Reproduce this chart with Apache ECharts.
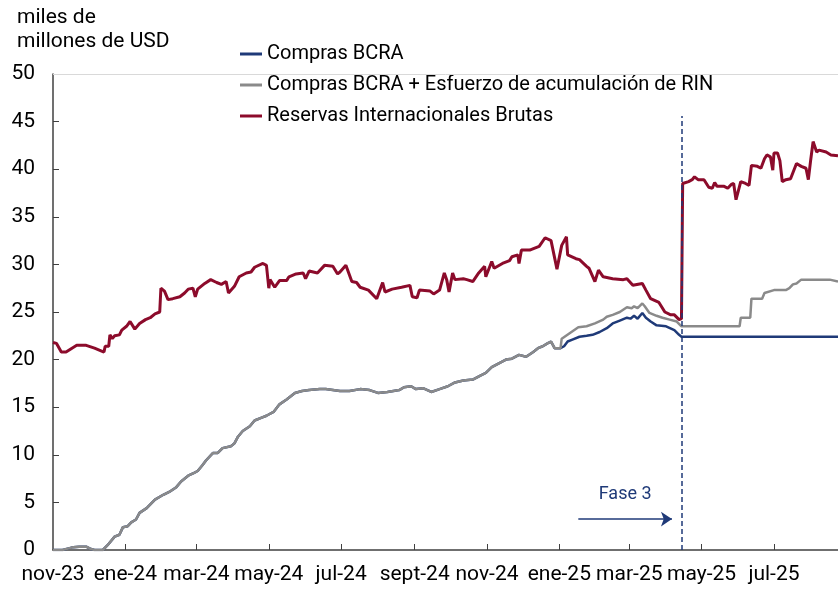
<!DOCTYPE html>
<html>
<head>
    <meta charset="utf-8">
    <title>Reservas y compras BCRA</title>
    <script src="https://cdn.jsdelivr.net/npm/echarts@6/dist/echarts.min.js"></script>
    <style>
        body { margin: 0; background: #fff; }
        #chart { width: 838px; height: 590px; }
    </style>
</head>
<body>
<div id="chart"></div>
<script type="text/javascript">
    // ejes
    var tickDates = ['2023-11-01', '2024-01-01', '2024-03-01', '2024-05-01', '2024-07-01', '2024-09-01',
        '2024-11-01', '2025-01-01', '2025-03-01', '2025-05-01', '2025-07-01'];
    var tickLabels = ['nov-23', 'ene-24', 'mar-24', 'may-24', 'jul-24', 'sept-24',
        'nov-24', 'ene-25', 'mar-25', 'may-25', 'jul-25'];
    var faseDate = '2025-04-14';

    // Reservas Internacionales Brutas
    var reservas = [
        ['2023-11-01', 21.8], ['2023-11-04', 21.7], ['2023-11-08', 20.8], ['2023-11-12', 20.8], ['2023-11-17', 21.2],
        ['2023-11-21', 21.5], ['2023-11-29', 21.5], ['2023-12-06', 21.2], ['2023-12-12', 20.9], ['2023-12-14', 20.8],
        ['2023-12-15', 21.4], ['2023-12-18', 21.4], ['2023-12-19', 22.6], ['2023-12-21', 22.2], ['2023-12-23', 22.5],
        ['2023-12-27', 22.6], ['2023-12-29', 23.1], ['2024-01-02', 23.5], ['2024-01-05', 24.0], ['2024-01-09', 23.2],
        ['2024-01-13', 23.8], ['2024-01-18', 24.2], ['2024-01-22', 24.4], ['2024-01-26', 24.8], ['2024-01-30', 25.0],
        ['2024-01-31', 27.5], ['2024-02-03', 27.2], ['2024-02-06', 26.3], ['2024-02-10', 26.4], ['2024-02-16', 26.6],
        ['2024-02-20', 27.0], ['2024-02-23', 27.4], ['2024-02-27', 27.5], ['2024-02-29', 26.6], ['2024-03-02', 27.4],
        ['2024-03-08', 28.0], ['2024-03-13', 28.4], ['2024-03-18', 28.1], ['2024-03-22', 27.9], ['2024-03-26', 28.2],
        ['2024-03-28', 27.0], ['2024-04-02', 27.7], ['2024-04-06', 28.7], ['2024-04-12', 29.1], ['2024-04-16', 29.2],
        ['2024-04-19', 29.7], ['2024-04-26', 30.1], ['2024-04-29', 29.9], ['2024-05-01', 27.5], ['2024-05-02', 28.4],
        ['2024-05-06', 27.6], ['2024-05-10', 28.3], ['2024-05-16', 28.3], ['2024-05-18', 28.7], ['2024-05-24', 29.0],
        ['2024-05-30', 29.1], ['2024-06-01', 28.5], ['2024-06-04', 29.3], ['2024-06-11', 29.1], ['2024-06-17', 29.9],
        ['2024-06-24', 29.8], ['2024-06-28', 29.0], ['2024-06-30', 29.2], ['2024-07-05', 29.9], ['2024-07-10', 28.2],
        ['2024-07-14', 28.1], ['2024-07-17', 27.6], ['2024-07-24', 27.3], ['2024-07-31', 26.4], ['2024-08-05', 28.1],
        ['2024-08-07', 27.1], ['2024-08-13', 27.4], ['2024-08-21', 27.6], ['2024-08-28', 27.8], ['2024-08-30', 26.6],
        ['2024-09-03', 26.5], ['2024-09-05', 27.3], ['2024-09-14', 27.2], ['2024-09-17', 26.9], ['2024-09-22', 27.3],
        ['2024-09-26', 29.1], ['2024-09-28', 28.4], ['2024-09-30', 27.1], ['2024-10-03', 29.1], ['2024-10-05', 28.4],
        ['2024-10-12', 28.5], ['2024-10-15', 28.4], ['2024-10-20', 28.2], ['2024-10-25', 29.1], ['2024-10-30', 29.8],
        ['2024-10-31', 28.7], ['2024-11-05', 30.3], ['2024-11-07', 29.6], ['2024-11-14', 30.1], ['2024-11-20', 30.4],
        ['2024-11-22', 30.8], ['2024-11-27', 31.0], ['2024-11-28', 30.1], ['2024-11-30', 31.5], ['2024-12-07', 31.5],
        ['2024-12-15', 31.9], ['2024-12-20', 32.8], ['2024-12-25', 32.5], ['2024-12-30', 29.5], ['2025-01-03', 32.0],
        ['2025-01-07', 32.9], ['2025-01-08', 31.0], ['2025-01-15', 30.6], ['2025-01-18', 30.5], ['2025-01-24', 29.8],
        ['2025-01-26', 29.6], ['2025-01-31', 28.2], ['2025-02-03', 29.4], ['2025-02-07', 28.7], ['2025-02-15', 28.5],
        ['2025-02-24', 28.4], ['2025-02-27', 28.5], ['2025-03-04', 27.8], ['2025-03-12', 28.0], ['2025-03-15', 27.3],
        ['2025-03-19', 26.4], ['2025-03-26', 26.0], ['2025-03-31', 25.0], ['2025-04-05', 24.7], ['2025-04-08', 24.7],
        ['2025-04-12', 24.2], ['2025-04-14', 24.3], ['2025-04-15', 38.5], ['2025-04-20', 38.7], ['2025-04-23', 38.9],
        ['2025-04-25', 39.2], ['2025-04-28', 38.9], ['2025-05-03', 38.9], ['2025-05-07', 38.1], ['2025-05-10', 38.0],
        ['2025-05-12', 38.6], ['2025-05-14', 38.2], ['2025-05-20', 38.2], ['2025-05-23', 38.0], ['2025-05-26', 38.4],
        ['2025-05-28', 38.5], ['2025-05-30', 36.8], ['2025-06-03', 38.7], ['2025-06-07', 38.5], ['2025-06-10', 38.3],
        ['2025-06-12', 40.4], ['2025-06-17', 40.3], ['2025-06-20', 40.1], ['2025-06-23', 41.1], ['2025-06-25', 41.5],
        ['2025-06-28', 41.3], ['2025-06-30', 39.9], ['2025-07-01', 41.7], ['2025-07-04', 41.7], ['2025-07-06', 40.9],
        ['2025-07-08', 38.7], ['2025-07-11', 38.9], ['2025-07-15', 39.0], ['2025-07-20', 40.6], ['2025-07-24', 40.3],
        ['2025-07-28', 40.1], ['2025-07-30', 38.9], ['2025-08-01', 41.0], ['2025-08-03', 42.9], ['2025-08-06', 41.8],
        ['2025-08-08', 42.0], ['2025-08-14', 41.8], ['2025-08-18', 41.5], ['2025-08-24', 41.4]
    ];

    // compras acumuladas (ambas series coinciden hasta ene-25)
    var comprasComun = [
        ['2023-11-01', 0.0], ['2023-11-09', 0.0], ['2023-11-15', 0.2], ['2023-11-18', 0.3], ['2023-11-23', 0.35],
        ['2023-11-29', 0.35], ['2023-12-03', 0.1], ['2023-12-06', 0.0], ['2023-12-13', 0.0], ['2023-12-17', 0.5],
        ['2023-12-23', 1.4], ['2023-12-27', 1.6], ['2023-12-30', 2.4], ['2024-01-03', 2.5], ['2024-01-06', 2.9],
        ['2024-01-10', 3.2], ['2024-01-13', 3.9], ['2024-01-19', 4.4], ['2024-01-26', 5.3], ['2024-02-02', 5.8],
        ['2024-02-07', 6.1], ['2024-02-13', 6.6], ['2024-02-17', 7.2], ['2024-02-23', 7.8], ['2024-02-28', 8.1],
        ['2024-03-02', 8.3], ['2024-03-06', 8.9], ['2024-03-09', 9.4], ['2024-03-15', 10.2], ['2024-03-19', 10.2],
        ['2024-03-23', 10.7], ['2024-03-30', 10.9], ['2024-04-02', 11.2], ['2024-04-05', 11.9], ['2024-04-09', 12.5],
        ['2024-04-15', 13.0], ['2024-04-19', 13.6], ['2024-04-25', 13.9], ['2024-04-29', 14.1], ['2024-05-05', 14.5],
        ['2024-05-10', 15.3], ['2024-05-16', 15.8], ['2024-05-23', 16.5], ['2024-05-29', 16.7], ['2024-06-04', 16.8],
        ['2024-06-13', 16.9], ['2024-06-18', 16.9], ['2024-06-24', 16.8], ['2024-06-30', 16.7], ['2024-07-08', 16.7],
        ['2024-07-17', 16.9], ['2024-07-25', 16.8], ['2024-08-01', 16.5], ['2024-08-09', 16.6], ['2024-08-19', 16.8],
        ['2024-08-23', 17.1], ['2024-08-29', 17.2], ['2024-09-02', 16.9], ['2024-09-08', 17.0], ['2024-09-15', 16.6],
        ['2024-09-22', 16.9], ['2024-09-29', 17.2], ['2024-10-05', 17.6], ['2024-10-12', 17.8], ['2024-10-20', 17.9],
        ['2024-10-26', 18.3], ['2024-10-31', 18.6], ['2024-11-05', 19.2], ['2024-11-11', 19.6], ['2024-11-17', 20.0],
        ['2024-11-22', 20.1], ['2024-11-28', 20.5], ['2024-12-04', 20.3], ['2024-12-10', 20.8], ['2024-12-14', 21.2],
        ['2024-12-18', 21.4], ['2024-12-22', 21.7], ['2024-12-25', 21.9], ['2024-12-28', 21.2], ['2025-01-02', 21.2]
    ];

    // Compras BCRA + Esfuerzo de acumulación de RIN, desde ene-25
    var esfuerzoTramo = [
        ['2025-01-03', 22.2], ['2025-01-10', 22.8], ['2025-01-17', 23.4], ['2025-01-24', 23.5], ['2025-01-31', 23.8],
        ['2025-02-07', 24.2], ['2025-02-10', 24.5], ['2025-02-15', 24.7], ['2025-02-21', 25.0], ['2025-02-27', 25.5],
        ['2025-03-03', 25.4], ['2025-03-05', 25.6], ['2025-03-08', 25.4], ['2025-03-12', 25.9], ['2025-03-14', 25.6],
        ['2025-03-18', 24.9], ['2025-03-24', 24.6], ['2025-03-29', 24.4], ['2025-04-04', 24.2], ['2025-04-10', 24.0],
        ['2025-04-14', 23.5], ['2025-06-02', 23.5], ['2025-06-03', 24.4], ['2025-06-11', 24.4], ['2025-06-12', 26.4],
        ['2025-06-21', 26.4], ['2025-06-23', 27.0], ['2025-07-01', 27.3], ['2025-07-11', 27.3], ['2025-07-14', 27.5],
        ['2025-07-17', 27.9], ['2025-07-20', 28.0], ['2025-07-24', 28.4], ['2025-08-17', 28.4], ['2025-08-24', 28.2]
    ];

    // Compras BCRA, desde ene-25
    var comprasTramo = [
        ['2025-01-05', 21.4], ['2025-01-08', 21.9], ['2025-01-12', 22.1], ['2025-01-18', 22.4], ['2025-01-24', 22.5],
        ['2025-01-29', 22.6], ['2025-02-04', 22.9], ['2025-02-10', 23.3], ['2025-02-15', 23.8], ['2025-02-21', 24.1],
        ['2025-02-27', 24.4], ['2025-03-02', 24.3], ['2025-03-05', 24.6], ['2025-03-08', 24.3], ['2025-03-12', 24.9],
        ['2025-03-15', 24.4], ['2025-03-19', 24.0], ['2025-03-24', 23.6], ['2025-04-01', 23.5], ['2025-04-08', 23.1],
        ['2025-04-12', 22.6], ['2025-04-14', 22.4], ['2025-08-24', 22.4]
    ];

    var BLUE = '#1f3a78';
    var GREY = '#8a8a8a';
    var RED = '#8c0b2b';
    var FONT = 'Roboto, "Noto Sans", sans-serif';

    function t(d) {
        return echarts.number.parseDate(d).getTime();
    }
    function toXY(rows) {
        return rows.map(function (r) { return [t(r[0]), r[1]]; });
    }
    var tickTimes = tickDates.map(t);

    var myChart = echarts.init(document.getElementById('chart'));
    myChart.setOption({
        animation: false,
        title: {
            text: 'miles de\nmillones de USD',
            left: 12,
            top: 1,
            textStyle: {fontFamily: FONT, fontSize: 21, fontWeight: 'normal', color: '#000', lineHeight: 24}
        },
        legend: {
            orient: 'vertical',
            left: 235,
            top: 39,
            itemWidth: 22,
            itemHeight: 3,
            itemGap: 11,
            icon: 'rect',
            textStyle: {fontFamily: FONT, fontSize: 20, color: '#000', lineHeight: 20},
            data: ['Compras BCRA', 'Compras BCRA + Esfuerzo de acumulación de RIN', 'Reservas Internacionales Brutas']
        },
        grid: {left: 53, right: 0, top: 74, bottom: 40, containLabel: false},
        xAxis: {
            type: 'value',
            min: t('2023-11-01'),
            max: t('2025-08-24'),
            axisLine: {lineStyle: {color: '#404040', width: 1.5}},
            axisTick: {inside: true, length: 6, customValues: tickTimes.slice(1), lineStyle: {color: '#404040'}},
            axisLabel: {
                customValues: tickTimes,
                margin: 14,
                fontFamily: FONT,
                fontSize: 21,
                color: '#000',
                formatter: function (val) {
                    for (var i = 0; i < tickTimes.length; i++) {
                        if (Math.abs(tickTimes[i] - val) < 43200000) return tickLabels[i];
                    }
                    return '';
                }
            },
            splitLine: {show: false}
        },
        yAxis: {
            type: 'value',
            min: 0,
            max: 50,
            interval: 5,
            axisLine: {show: true, lineStyle: {color: '#404040', width: 1.5}},
            axisTick: {show: true, inside: true, length: 6, lineStyle: {color: '#404040'}},
            axisLabel: {margin: 18, fontFamily: FONT, fontSize: 21, color: '#000'},
            splitLine: {show: false}
        },
        series: [
            {
                name: 'Compras BCRA',
                type: 'line',
                showSymbol: false,
                color: BLUE,
                lineStyle: {width: 2.5, color: BLUE},
                data: toXY(comprasComun.concat(comprasTramo)),
                markLine: {
                    silent: true,
                    symbol: ['none', 'none'],
                    label: {show: false},
                    data: [
                        {yAxis: 50, lineStyle: {color: '#d9d9d9', width: 1, type: 'solid'}},
                        [
                            {coord: [t(faseDate), 0], lineStyle: {color: BLUE, width: 1.5, type: [5, 3]}},
                            {coord: [t(faseDate), 45.6]}
                        ],
                        [
                            {
                                coord: [t('2025-01-17'), 3.25],
                                lineStyle: {color: BLUE, width: 1.5, type: 'solid'},
                                label: {
                                    show: true,
                                    formatter: 'Fase 3',
                                    position: 'insideMiddleTop',
                                    distance: 16,
                                    color: BLUE,
                                    fontFamily: FONT,
                                    fontSize: 18
                                }
                            },
                            {coord: [t('2025-04-06'), 3.25], symbol: 'arrow', symbolSize: 11}
                        ]
                    ]
                }
            },
            {
                name: 'Compras BCRA + Esfuerzo de acumulación de RIN',
                type: 'line',
                showSymbol: false,
                color: GREY,
                lineStyle: {width: 2.5, color: GREY},
                data: toXY(comprasComun.concat(esfuerzoTramo))
            },
            {
                name: 'Reservas Internacionales Brutas',
                type: 'line',
                showSymbol: false,
                color: RED,
                lineStyle: {width: 3, color: RED},
                data: toXY(reservas)
            }
        ]
    });
</script>
</body>
</html>
